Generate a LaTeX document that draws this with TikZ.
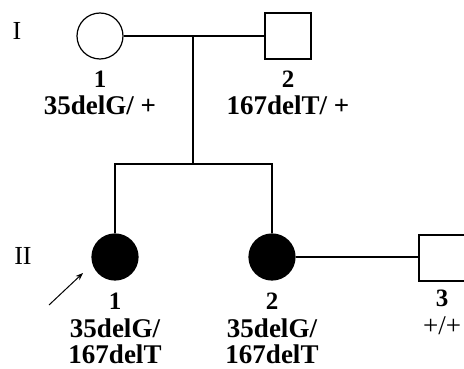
\documentclass[tikz,border=0pt]{standalone}
\usepackage{fontspec}
\setmainfont{Liberation Serif}
\usetikzlibrary{arrows.meta,positioning}
\newcommand\genofont{\fontsize{27}{30}\selectfont\bfseries}
\newcommand\idfont{\fontsize{25}{28}\selectfont\bfseries}
\tikzset {
  >=Stealth,
  every node/.style={font=\genofont},
  female/.style={circle,draw,line width=1.2pt,minimum size=46pt,inner sep=0pt},
  male/.style={rectangle,draw,line width=1.2pt,minimum size=46pt,inner sep=0pt},
  affected/.style={fill=black},
  idlabel/.style={anchor=base,inner sep=1pt,font=\idfont},
  genotype/.style={anchor=base,inner sep=1pt,font=\genofont},
  gen/.style={anchor=base,inner sep=1pt,font=\fontsize{26}{28}\selectfont},
}

\begin{document}
\begin{tikzpicture}[x=1pt,y=-1pt,line width=1.2pt]
  \useasboundingbox (0,0) rectangle (464,369);

  % generation I
  \node[gen] (genI) at (17,40) {I};
  \node[female] (f1) at (100,36) {};
  \node[male] (m2) at (288,36) {};
  \node[idlabel] (f1id) at (100,88) {1};
  \node[genotype] (f1gt) at (100,115) {35delG/ +};
  \node[idlabel] (m2id) at (288,88) {2};
  \node[genotype] (m2gt) at (288,115) {167delT/ +};

  \draw (f1.east) -- (m2.west);
  \coordinate (mid) at (193,36);
  \coordinate (sib) at (193,164);
  \draw (mid) -- (sib);

  % generation II
  \node[gen] (genII) at (23,264) {II};
  \node[female,affected] (d1) at (115,257) {};
  \node[female,affected] (d2) at (272,257) {};
  \node[male] (h3) at (442,258) {};

  \draw (d1.north) |- (sib) -| (d2.north);
  \draw (d2.east) -- (d2.east -| h3.west);

  \node[idlabel] (d1id) at (115,309) {1};
  \node[genotype] (d1gt) at (115,337) {35delG/};
  \node[genotype] (d1gt2) at (115,363) {167delT};
  \node[idlabel] (d2id) at (272,309) {2};
  \node[genotype] (d2gt) at (272,337) {35delG/};
  \node[genotype] (d2gt2) at (272,363) {167delT};
  \node[idlabel] (h3id) at (442,306) {3};
  \node[genotype,font=\fontsize{27}{30}\selectfont] (h3gt) at (442,334) {+/+};

  % proband
  \coordinate (pstart) at (49,305);
  \coordinate (ptip) at (83,273);
  \draw[->,line width=1pt] (pstart) -- (ptip);
\end{tikzpicture}
\end{document}
